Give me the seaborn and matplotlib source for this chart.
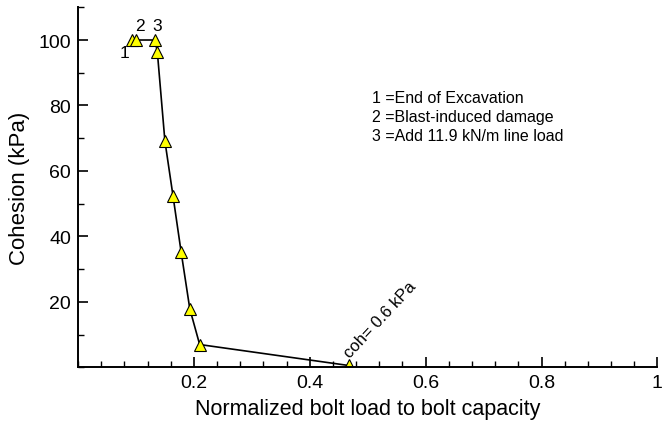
import matplotlib
matplotlib.use("Agg")
import matplotlib.pyplot as plt
from matplotlib.ticker import MultipleLocator, FixedLocator
import seaborn as sns
import pandas as pd

bolt_load = [0.094, 0.101, 0.133, 0.137, 0.150, 0.164, 0.178, 0.193, 0.210, 0.467]
cohesion = [100.0, 100.0, 100.0, 96.3, 69.2, 52.4, 35.3, 17.9, 7.0, 0.6]
stage_labels = ["1", "2", "3"]
legend_lines = ["1 =End of Excavation", "2 =Blast-induced damage", "3 =Add 11.9 kN/m line load"]
x_ticks = [0.2, 0.4, 0.6, 0.8, 1.0]
x_tick_labels = ["0.2", "0.4", "0.6", "0.8", "1"]
y_ticks = [20, 40, 60, 80, 100]

sns.set_theme(style="white")
plt.rcParams["font.family"] = ["Liberation Sans", "DejaVu Sans"]
plt.rcParams["text.color"] = "black"
plt.rcParams["axes.labelcolor"] = "black"
plt.rcParams["xtick.color"] = "black"
plt.rcParams["ytick.color"] = "black"

df = pd.DataFrame({"x": bolt_load, "y": cohesion})
fig = plt.figure(figsize=(6.63, 4.35), dpi=100)
ax = fig.add_axes([0.1176, 0.153, 0.874, 0.828])

sns.lineplot(data=df, x="x", y="y", sort=False, ax=ax, color="black", lw=1.2,
             marker="^", markersize=9, markerfacecolor="#ffff00",
             markeredgecolor="black", markeredgewidth=0.8)

ax.set_xlim(0, 1)
ax.set_ylim(0, 110)
ax.xaxis.set_major_locator(FixedLocator(x_ticks))
ax.set_xticklabels(x_tick_labels)
ax.xaxis.set_minor_locator(MultipleLocator(0.04))
ax.yaxis.set_major_locator(FixedLocator(y_ticks))
ax.yaxis.set_minor_locator(MultipleLocator(10))
ax.tick_params(axis="both", which="major", direction="in", length=7, width=1.2,
               labelsize=14, colors="black", pad=5)
ax.tick_params(axis="both", which="minor", direction="in", length=4, width=1.0)
ax.tick_params(bottom=True, left=True, which="both")
for s in ["top", "right"]:
    ax.spines[s].set_visible(False)
for s in ["left", "bottom"]:
    ax.spines[s].set_color("black")
    ax.spines[s].set_linewidth(1.4)

ax.set_xlabel("Normalized bolt load to bolt capacity", fontsize=15.5, labelpad=5)
ax.set_ylabel("Cohesion (kPa)", fontsize=16, labelpad=6)

ax.text(0.080, 96.3, stage_labels[0], fontsize=12.5, ha="center", va="center")
ax.text(0.1065, 104.3, stage_labels[1], fontsize=12.5, ha="center", va="center")
ax.text(0.1366, 104.3, stage_labels[2], fontsize=12.5, ha="center", va="center")

for i, line in enumerate(legend_lines):
    ax.text(0.508, 82.3 - i * 5.7, line, fontsize=11.5, ha="left", va="center")

ax.text(0.474, 2.2, "coh= 0.6 kPa", fontsize=12,
        rotation=47, rotation_mode="anchor", ha="left", va="bottom")

fig.savefig("out.png", dpi=100)
